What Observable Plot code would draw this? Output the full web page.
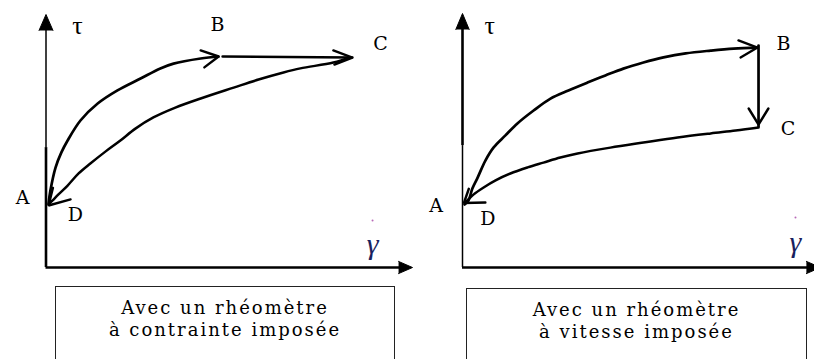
<!DOCTYPE html>
<html><head><meta charset="utf-8">
<script src="https://cdn.jsdelivr.net/npm/d3@7"></script>
<script src="https://cdn.jsdelivr.net/npm/@observablehq/plot@0.6"></script>
<style>
html,body{margin:0;padding:0;background:#fff;}
#root{position:relative;width:814px;height:359px;overflow:hidden;background:#fff;}
.panel{position:absolute;top:0;}
.caption{position:absolute;box-sizing:border-box;height:90px;border:1.4px solid #222;border-bottom:none;
  font-family:"DejaVu Serif",serif;font-size:18px;letter-spacing:2px;line-height:22px;text-align:center;color:#000;padding-top:10px;}
</style></head><body><div id="root"></div>
<script>
// ---- data (γ̇ = shear rate, τ = stress, arbitrary units 0–100) ----
const captionLeft = ["Avec un rhéomètre", "à contrainte imposée"];
const captionRight = ["Avec un rhéomètre", "à vitesse imposée"];
const pointLabels = ["τ", "B", "C", "A", "D"];

// Left panel: imposed stress
const leftUp = [[0.7,25.3],[1.2,30.4],[2.6,39.5],[4.2,45.5],[5.9,50.2],[9.4,58.1],[14.1,64.8],[19.5,70.0],[25.8,74.7],[31.2,78.7],[34.8,80.6],[42.2,82.6],[47.1,83.4]];
const leftBC = [[48.2,83.4],[83.6,83.0]];
const leftDown = [[83.1,83.0],[78.4,81.0],[69.4,78.7],[64.8,77.1],[58.0,74.3],[51.2,71.1],[42.2,66.8],[35.3,63.2],[29.3,59.3],[24.4,54.9],[20.3,50.2],[16.2,45.8],[12.1,41.1],[8.9,37.2],[5.9,32.4],[3.4,28.9],[1.8,26.5],[0.7,24.9]];
const leftHeads = [
  [[42.2,85.8],[47.1,83.4],[43.2,79.1]],
  [[78.4,85.8],[83.6,83.0],[78.7,80.2]],
  [[1.9,31.5],[0.7,24.5],[6.7,26.9]]
];
const leftLabelX = [8.6, 46.8, 91.3, -6.4, 8.0];
const leftLabelY = [95.5, 95.7, 88.5, 27.7, 20.6];
const leftGamma = [89.1, 9.1];
const leftGammaDot = [89.1, 18.6];
const leftAxisBreak = 47.4;

// Right panel: imposed shear rate
const rightUp = [[0.6,24.8],[1.7,26.4],[2.8,31.1],[4.3,35.4],[6.5,42.1],[8.8,47.2],[12.2,52.0],[15.6,56.7],[20.2,61.8],[25.0,66.5],[30.1,69.7],[35.5,72.8],[40.6,75.6],[45.7,78.3],[51.4,80.7],[57.1,82.7],[63.4,84.3],[70.5,85.4],[77.0,86.2],[83.8,86.6]];
const rightBC = [[84.1,87.4],[84.1,55.6]];
const rightDown = [[84.1,55.1],[77.6,53.9],[70.5,52.8],[61.1,51.2],[51.4,49.2],[42.0,47.2],[32.7,44.9],[27.8,43.3],[23.0,41.3],[18.5,39.4],[13.6,37.0],[9.4,34.3],[6.0,31.5],[3.1,28.7],[1.4,26.4],[0.6,25.2]];
const rightHeads = [
  [[78.4,89.4],[83.8,86.6],[79.0,82.7]],
  [[81.3,62.6],[84.1,56.3],[86.9,62.6]],
  [[1.8,31.0],[0.4,25.4],[6.5,25.6]]
];
const rightLabelX = [7.7, 91.2, 92.5, -7.5, 7.2];
const rightLabelY = [95.3, 88.0, 54.5, 24.2, 19.1];
const rightGamma = [94.6, 9.8];
const rightGammaDot = [94.6, 19.7];
const rightAxisBreak = 48.0;

// axis arrowheads [base1, tip, base2]
const yArrow = [[-1.9,93.7],[0,100],[1.9,93.7]];
const leftXArrow = [[96.2,2.4],[100,0],[96.2,-2.4]];
const rightXArrow = [[97.7,2.4],[101.7,0],[97.7,-2.4]];

// ---- drawing ----
const toPts = (arr, g) => arr.map(([x, y]) => ({x, y, g}));

function panel(o) {
  const heads = o.heads.flatMap((h, i) => toPts(h, i));
  const labels = pointLabels.map((t, i) => ({t, x: o.labelX[i], y: o.labelY[i]}));
  const serif = "DejaVu Serif";
  return Plot.plot({
    width: o.width, height: 282, margin: 0,
    x: {domain: [0, 100], range: o.xRange, axis: null},
    y: {domain: [0, 100], range: o.yRange, axis: null},
    marks: [
      // axes
      Plot.ruleX([0], {y1: 0, y2: o.axisBreak, stroke: "black", strokeWidth: o.lowerW}),
      Plot.ruleX([0], {y1: o.axisBreak, y2: 95, stroke: "black", strokeWidth: o.upperW}),
      Plot.ruleY([0], {x1: 0, x2: o.xArrow[0][0] + 0.5, stroke: "black", strokeWidth: 2.6}),
      Plot.line(toPts(yArrow), {x: "x", y: "y", fill: "black", stroke: "black", strokeWidth: 1}),
      Plot.line(toPts(o.xArrow), {x: "x", y: "y", fill: "black", stroke: "black", strokeWidth: 1}),
      // curves
      Plot.line(toPts(o.up), {x: "x", y: "y", curve: "catmull-rom", stroke: "black", strokeWidth: 2.7}),
      Plot.line(toPts(o.bc), {x: "x", y: "y", stroke: "black", strokeWidth: 2.7}),
      Plot.line(toPts(o.down), {x: "x", y: "y", curve: "catmull-rom", stroke: "black", strokeWidth: 2.5}),
      Plot.line(heads, {x: "x", y: "y", z: "g", stroke: "black", strokeWidth: 2.4, strokeLinejoin: "miter"}),
      // labels
      Plot.text(labels.filter(d => d.t !== "τ"), {x: "x", y: "y", text: "t", fontFamily: serif, fontSize: 19, fill: "#000", lineAnchor: "middle"}),
      Plot.text(labels.filter(d => d.t === "τ"), {x: "x", y: "y", text: "t", fontFamily: "Liberation Serif", fontSize: 26, fill: "#000", lineAnchor: "middle"}),
      Plot.text([{x: o.gamma[0], y: o.gamma[1]}], {x: "x", y: "y", text: () => "γ", fontFamily: "Liberation Serif", fontStyle: "italic", fontSize: 30, fill: "#1a1f5e", lineAnchor: "middle"}),
      Plot.dot([{x: o.gammaDot[0], y: o.gammaDot[1]}], {x: "x", y: "y", r: 1, fill: "#b86ab8", stroke: "none"})
    ]
  });
}

const root = document.getElementById("root");
const left = panel({width: 414, xRange: [45.5, 412], yRange: [267, 14], up: leftUp, bc: leftBC, down: leftDown, heads: leftHeads,
  labelX: leftLabelX, labelY: leftLabelY, gamma: leftGamma, gammaDot: leftGammaDot, axisBreak: leftAxisBreak, lowerW: 2.6, upperW: 1.5, xArrow: leftXArrow});
left.classList.add("panel"); left.style.left = "0px";
root.appendChild(left);
const right = panel({width: 400, xRange: [48, 400], yRange: [267, 13], up: rightUp, bc: rightBC, down: rightDown, heads: rightHeads,
  labelX: rightLabelX, labelY: rightLabelY, gamma: rightGamma, gammaDot: rightGammaDot, axisBreak: rightAxisBreak, lowerW: 1.5, upperW: 2.6, xArrow: rightXArrow});
right.classList.add("panel"); right.style.left = "414px";
root.appendChild(right);

function caption(lines, l, t, w) {
  const d = document.createElement("div");
  d.className = "caption";
  d.style.left = l + "px"; d.style.top = t + "px"; d.style.width = w + "px";
  lines.forEach(s => { const p = document.createElement("div"); p.textContent = s; d.appendChild(p); });
  root.appendChild(d);
}
caption(captionLeft, 55, 286, 340);
caption(captionRight, 466, 288, 341);
</script></body></html>
